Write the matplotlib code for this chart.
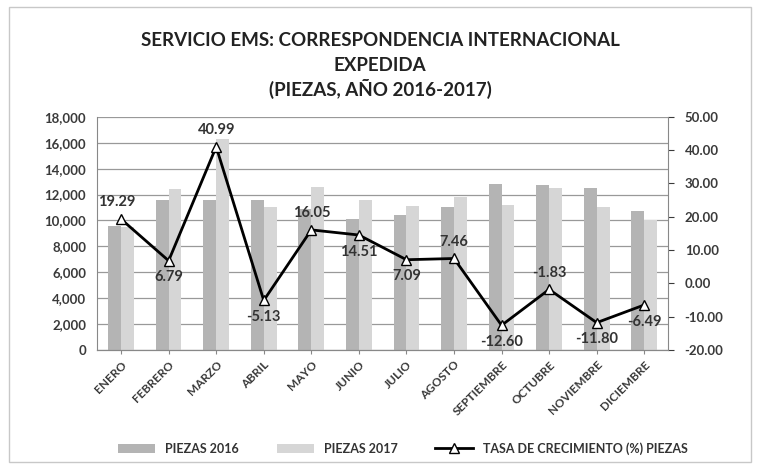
import matplotlib.pyplot as plt
import numpy as np
from matplotlib.ticker import FuncFormatter

plt.rcParams['font.family'] = ['Lato', 'DejaVu Sans']

# Datos
meses = ["ENERO", "FEBRERO", "MARZO", "ABRIL", "MAYO", "JUNIO", "JULIO",
         "AGOSTO", "SEPTIEMBRE", "OCTUBRE", "NOVIEMBRE", "DICIEMBRE"]
piezas_2016 = [9600, 11600, 11600, 11600, 10900, 10100, 10400, 11000, 12800, 12700, 12500, 10700]
piezas_2017 = [9500, 12400, 16300, 11000, 12600, 11600, 11100, 11800, 11200, 12500, 11000, 10000]
tasa = [19.29, 6.79, 40.99, -5.13, 16.05, 14.51, 7.09, 7.46, -12.60, -1.83, -11.80, -6.49]
# posicion de cada etiqueta: arriba (1) o abajo (-1)
pos_etiqueta = [1, -1, 1, -1, 1, -1, -1, 1, -1, 1, -1, -1]

fig = plt.figure(figsize=(7.6, 4.71), dpi=100)
ax = fig.add_axes([0.128, 0.257, 0.751, 0.495])
ax2 = ax.twinx()

x = np.arange(len(meses))
w = 0.27
ax.bar(x - w / 2, piezas_2016, w, color="#b4b4b4", label="PIEZAS 2016", zorder=2)
ax.bar(x + w / 2, piezas_2017, w, color="#d6d6d6", label="PIEZAS 2017", zorder=2)

ax.set_ylim(0, 18000)
ax.set_yticks(range(0, 18001, 2000))
ax.yaxis.set_major_formatter(FuncFormatter(lambda v, p: f"{v:,.0f}"))
ax.grid(axis="y", color="#999999", linewidth=0.9, zorder=0)
ax.set_axisbelow(True)
ax.set_xlim(-0.5, len(meses) - 0.5)
ax.set_xticks(x)
ax.set_xticklabels(meses, rotation=45, ha="right", rotation_mode="anchor",
                   fontsize=8.5, fontweight="bold", color="#3a3a3a")
ax.tick_params(axis="y", labelsize=9.5, colors="#3a3a3a", length=0, pad=8)
ax.tick_params(axis="x", length=3, color="#888888")
for lbl in ax.get_yticklabels():
    lbl.set_fontweight("bold")

ax2.plot(x, tasa, color="black", linewidth=2, marker="^", markersize=7,
         markerfacecolor="white", markeredgecolor="black", markeredgewidth=1,
         label="TASA DE CRECIMIENTO (%) PIEZAS", zorder=5)
ax2.set_ylim(-20, 50)
ax2.set_yticks(range(-20, 51, 10))
ax2.yaxis.set_major_formatter(FuncFormatter(lambda v, p: f"{v:.2f}"))
ax2.tick_params(axis="y", labelsize=9.5, colors="#3a3a3a", length=4, pad=8)
for lbl in ax2.get_yticklabels():
    lbl.set_fontweight("bold")

for i, (xi, t, p) in enumerate(zip(x, tasa, pos_etiqueta)):
    dx = -3 if i == 0 else 0
    ax2.annotate(f"{t:.2f}", (xi, t), xytext=(dx, 12 * p), textcoords="offset points",
                 ha="center", va="center", fontsize=10.5, fontweight="bold",
                 color="#333333")

for a in (ax, ax2):
    for s in ["top", "left"]:
        a.spines[s].set_visible(False)
    a.spines["bottom"].set_color("#888888")
    a.spines["right"].set_color("#888888")
ax.spines["right"].set_visible(False)
ax.spines["left"].set_visible(True)
ax.spines["left"].set_color("#888888")

fig.text(0.5, 0.915, "SERVICIO EMS: CORRESPONDENCIA INTERNACIONAL", ha="center",
         va="center", fontsize=13.5, fontweight="bold", color="#222222")
fig.text(0.5, 0.86, "EXPEDIDA", ha="center", va="center", fontsize=13.5,
         fontweight="bold", color="#222222")
fig.text(0.5, 0.812, "(PIEZAS, AÑO 2016-2017)", ha="center", va="center",
         fontsize=13.5, fontweight="bold", color="#222222")

h1, l1 = ax.get_legend_handles_labels()
h2, l2 = ax2.get_legend_handles_labels()
fig.legend(h1 + h2, l1 + l2, loc="center", bbox_to_anchor=(0.53, 0.048), ncol=3,
           frameon=False, handlelength=3, columnspacing=3,
           labelcolor="#333333", prop={"weight": "bold", "size": 9})

fig.patches.append(plt.Rectangle((0.012, 0.02), 0.976, 0.965, transform=fig.transFigure,
                                 fill=False, edgecolor="#c8c8c8", linewidth=1))

fig.savefig("out.png", dpi=100)
